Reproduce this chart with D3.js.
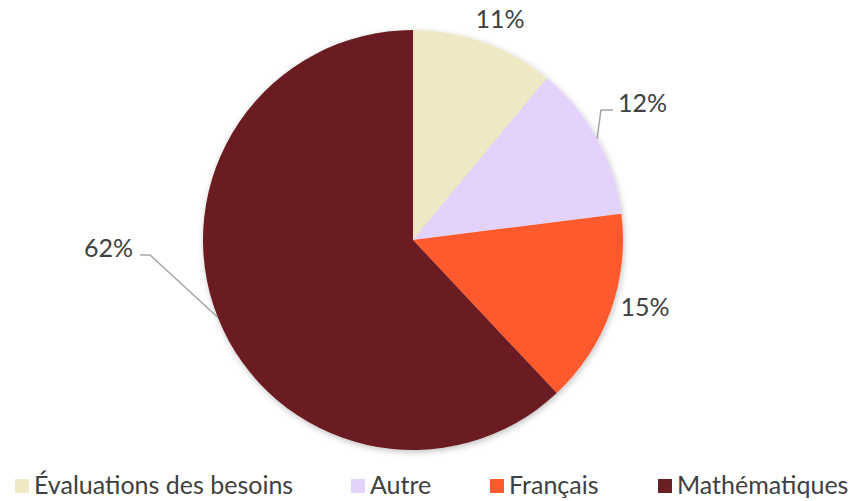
<!DOCTYPE html>
<html>
<head>
<meta charset="utf-8">
<script src="https://cdn.jsdelivr.net/npm/d3@7"></script>
<style>
  body { margin: 0; background: #fff; }
  svg { display: block; }
  text { font-family: Lato, "Open Sans", sans-serif; fill: #404040; }
</style>
</head>
<body>
<svg width="856" height="501"></svg>
<script>
// données
const categories = ["Évaluations des besoins", "Autre", "Français", "Mathématiques"];
const values = [11, 12, 15, 62];
const colors = ["#EEE8C4", "#E3D3FC", "#FF5A2D", "#6A1F22"];

const svg = d3.select("svg");
const cx = 413, cy = 240, radius = 210;

// petite ombre autour du camembert
const defs = svg.append("defs");
const filt = defs.append("filter").attr("id", "shadow")
  .attr("x", "-10%").attr("y", "-10%").attr("width", "120%").attr("height", "120%");
filt.append("feDropShadow")
  .attr("dx", 1).attr("dy", 2).attr("stdDeviation", 3)
  .attr("flood-color", "#000").attr("flood-opacity", 0.25);

const pie = d3.pie().sort(null).value(d => d);
const arcs = pie(values);
const arc = d3.arc().innerRadius(0).outerRadius(radius);

const g = svg.append("g").attr("transform", `translate(${cx},${cy})`);

g.append("g").attr("filter", "url(#shadow)")
  .selectAll("path")
  .data(arcs)
  .enter()
  .append("path")
  .attr("d", arc)
  .attr("fill", (d, i) => colors[i]);

// point sur le bord de chaque part
const edge = d => {
  const a = (d.startAngle + d.endAngle) / 2;
  return [Math.sin(a) * radius, -Math.cos(a) * radius];
};
// placement des étiquettes (relatif au centre)
const labelLayout = {
  0: { text: [87, -212], anchor: "middle" },
  1: { elbow: [188, -130], end: [200, -130], anchor: "start", text: [205, -128] },
  2: { text: [232, 76], anchor: "middle" },
  3: { elbow: [-263, 15], end: [-273, 15], anchor: "end", text: [-280, 17] }
};

arcs.forEach(function(d, i) {
  const L = labelLayout[i];
  if (L.elbow) {
    g.append("polyline")
      .attr("points", [edge(d), L.elbow, L.end].map(p => p.join(",")).join(" "))
      .attr("fill", "none")
      .attr("stroke", "#A6A6A6")
      .attr("stroke-width", 1.5);
  }
  g.append("text")
    .attr("x", L.text[0]).attr("y", L.text[1])
    .attr("text-anchor", L.anchor)
    .attr("font-size", 25)
    .text(values[i] + "%");
});

// légende
const legendX = [15, 351, 490, 658];
const legend = svg.append("g").attr("transform", "translate(0,479)");
const item = legend.selectAll("g")
  .data(categories)
  .enter()
  .append("g")
  .attr("transform", (d, i) => `translate(${legendX[i]},0)`);
item.append("rect")
  .attr("width", 14).attr("height", 14)
  .attr("fill", (d, i) => colors[i]);
item.append("text")
  .attr("x", 19).attr("y", 15)
  .attr("font-size", 25)
  .text(d => d);
</script>
</body>
</html>
